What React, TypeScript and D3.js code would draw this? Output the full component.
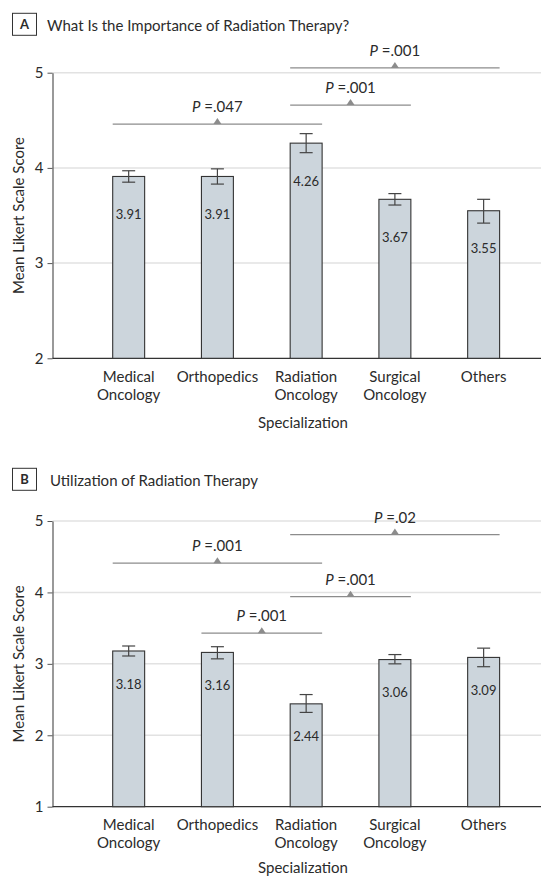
import { useEffect, useRef } from 'react';
import * as d3 from 'd3';

// categories on the x axis
const categories = ['Medical Oncology', 'Orthopedics', 'Radiation Oncology', 'Surgical Oncology', 'Others'];

// Panel A - importance of radiation therapy
const importanceMean = [3.91, 3.91, 4.26, 3.67, 3.55];
const importanceLow = [3.85, 3.83, 4.16, 3.61, 3.42];
const importanceHigh = [3.97, 3.99, 4.36, 3.73, 3.67];
const importanceTicks = [2, 3, 4, 5];
const importancePvals = [
    { from: 'Medical Oncology', to: 'Radiation Oncology', p: '.047', level: 4.46 },
    { from: 'Radiation Oncology', to: 'Surgical Oncology', p: '.001', level: 4.66 },
    { from: 'Radiation Oncology', to: 'Others', p: '.001', level: 5.05 },
];

// Panel B - utilization of radiation therapy
const utilizationMean = [3.18, 3.16, 2.44, 3.06, 3.09];
const utilizationLow = [3.11, 3.07, 2.32, 3.0, 2.96];
const utilizationHigh = [3.25, 3.24, 2.57, 3.13, 3.22];
const utilizationTicks = [1, 2, 3, 4, 5];
const utilizationPvals = [
    { from: 'Medical Oncology', to: 'Radiation Oncology', p: '.001', level: 4.41 },
    { from: 'Orthopedics', to: 'Radiation Oncology', p: '.001', level: 3.43 },
    { from: 'Radiation Oncology', to: 'Surgical Oncology', p: '.001', level: 3.94 },
    { from: 'Radiation Oncology', to: 'Others', p: '.02', level: 4.81 },
];

const FONT = 'Lato, "Open Sans", sans-serif';
const TEXT = '#2b2b2b';
const AXIS_LEFT = 52.5;
const AXIS_RIGHT = 541;

function drawPanel(svg, cfg) {
    const g = svg.append('g');

    const y = d3.scaleLinear()
        .domain([cfg.ticks[0], cfg.ticks[cfg.ticks.length - 1]])
        .range([cfg.bottom, cfg.top]);

    const x = d3.scaleBand()
        .domain(categories)
        .range([84.3, 528])
        .paddingInner(0.64)
        .paddingOuter(0.32);

    // header box + title
    g.append('rect')
        .attr('x', 12.5).attr('y', cfg.headerY)
        .attr('width', 24).attr('height', 22)
        .attr('fill', 'none').attr('stroke', '#333').attr('stroke-width', 1);
    g.append('text')
        .attr('x', 24.5).attr('y', cfg.headerY + 16)
        .attr('text-anchor', 'middle')
        .attr('font-family', FONT).attr('font-size', 13).attr('font-weight', 700)
        .attr('fill', TEXT)
        .text(cfg.letter);
    g.append('text')
        .attr('x', cfg.titleX).attr('y', cfg.headerY + 17.5)
        .attr('font-family', FONT).attr('font-size', 15)
        .attr('fill', TEXT)
        .text(cfg.title);

    // grid lines
    g.selectAll('.grid')
        .data(cfg.ticks.slice(1))
        .enter()
        .append('line')
        .attr('x1', AXIS_LEFT).attr('x2', AXIS_RIGHT)
        .attr('y1', d => y(d)).attr('y2', d => y(d))
        .attr('stroke', '#e2e2e2').attr('stroke-width', 1.5);

    // y axis
    const yAxis = g.append('g')
        .attr('transform', `translate(${AXIS_LEFT},0)`)
        .call(d3.axisLeft(y).tickValues(cfg.ticks).tickSize(5).tickSizeOuter(0).tickPadding(4).tickFormat(d3.format('d')));
    yAxis.select('.domain').attr('stroke', '#555').attr('stroke-width', 1.2);
    yAxis.selectAll('.tick line').attr('stroke', '#555');
    yAxis.selectAll('.tick text')
        .attr('font-family', FONT).attr('font-size', 15).attr('fill', TEXT);

    // baseline
    g.append('line')
        .attr('x1', AXIS_LEFT).attr('x2', AXIS_RIGHT)
        .attr('y1', y(cfg.ticks[0])).attr('y2', y(cfg.ticks[0]))
        .attr('stroke', '#333').attr('stroke-width', 1.3);

    const rows = categories.map((c, i) => ({ c, m: cfg.mean[i], lo: cfg.low[i], hi: cfg.high[i] }));

    // bars
    g.selectAll('.bar')
        .data(rows)
        .enter()
        .append('rect')
        .attr('x', d => x(d.c))
        .attr('y', d => y(d.m))
        .attr('width', x.bandwidth())
        .attr('height', d => y(cfg.ticks[0]) - y(d.m))
        .attr('fill', '#ccd5dc')
        .attr('stroke', '#333')
        .attr('stroke-width', 1.1);

    // error bars
    const err = g.selectAll('.err')
        .data(rows)
        .enter()
        .append('g')
        .attr('stroke', '#444')
        .attr('stroke-width', 1.2);
    err.append('line')
        .attr('x1', d => x(d.c) + x.bandwidth() / 2).attr('x2', d => x(d.c) + x.bandwidth() / 2)
        .attr('y1', d => y(d.lo)).attr('y2', d => y(d.hi));
    err.append('line')
        .attr('x1', d => x(d.c) + x.bandwidth() / 2 - 6.5).attr('x2', d => x(d.c) + x.bandwidth() / 2 + 6.5)
        .attr('y1', d => y(d.hi)).attr('y2', d => y(d.hi));
    err.append('line')
        .attr('x1', d => x(d.c) + x.bandwidth() / 2 - 6.5).attr('x2', d => x(d.c) + x.bandwidth() / 2 + 6.5)
        .attr('y1', d => y(d.lo)).attr('y2', d => y(d.lo));

    // value labels inside bars
    g.selectAll('.val')
        .data(rows)
        .enter()
        .append('text')
        .attr('x', d => x(d.c) + x.bandwidth() / 2)
        .attr('y', d => y(d.m) + cfg.labelOffset)
        .attr('text-anchor', 'middle')
        .attr('dy', '0.35em')
        .attr('font-family', FONT).attr('font-size', 13)
        .attr('fill', TEXT)
        .text(d => d.m.toFixed(2));

    // significance brackets
    const pg = g.selectAll('.pval')
        .data(cfg.pvals)
        .enter()
        .append('g');
    pg.append('line')
        .attr('x1', d => x(d.from)).attr('x2', d => x(d.to) + x.bandwidth())
        .attr('y1', d => y(d.level)).attr('y2', d => y(d.level))
        .attr('stroke', '#8c8c8c').attr('stroke-width', 1.2);
    pg.append('path')
        .attr('d', d => {
            const cx = (x(d.from) + x(d.to) + x.bandwidth()) / 2;
            const ly = y(d.level);
            return `M${cx - 4},${ly}L${cx + 4},${ly}L${cx},${ly - 6}Z`;
        })
        .attr('fill', '#8c8c8c');
    const pt = pg.append('text')
        .attr('x', d => (x(d.from) + x(d.to) + x.bandwidth()) / 2)
        .attr('y', d => y(d.level) - 12)
        .attr('text-anchor', 'middle')
        .attr('font-family', FONT).attr('font-size', 15)
        .attr('fill', TEXT);
    pt.append('tspan').attr('font-style', 'italic').text('P');
    pt.append('tspan').text(d => '\u00a0=' + d.p);

    // category labels
    const cl = g.selectAll('.cat')
        .data(categories)
        .enter()
        .append('text')
        .attr('x', d => x(d) + x.bandwidth() / 2)
        .attr('y', y(cfg.ticks[0]) + 23.5)
        .attr('text-anchor', 'middle')
        .attr('font-family', FONT).attr('font-size', 15)
        .attr('fill', TEXT);
    cl.selectAll('tspan')
        .data(d => d.split(' '))
        .enter()
        .append('tspan')
        .attr('x', function () { return d3.select(this.parentNode).attr('x'); })
        .attr('dy', (d, i) => (i === 0 ? 0 : 18))
        .text(d => d);

    // axis titles
    g.append('text')
        .attr('x', 303)
        .attr('y', y(cfg.ticks[0]) + cfg.xTitleOffset)
        .attr('text-anchor', 'middle')
        .attr('font-family', FONT).attr('font-size', 15)
        .attr('fill', TEXT)
        .text('Specialization');

    g.append('text')
        .attr('transform', `translate(24,${(cfg.top + cfg.bottom) / 2}) rotate(-90)`)
        .attr('text-anchor', 'middle')
        .attr('font-family', FONT).attr('font-size', 15)
        .attr('fill', TEXT)
        .text('Mean Likert Scale Score');
}

export default function App() {
    const ref = useRef<SVGSVGElement>(null);

    useEffect(() => {
        if (!ref.current) return;
        const svg = d3.select(ref.current);
        svg.selectAll('*').remove();

        drawPanel(svg, {
            letter: 'A',
            title: 'What Is the Importance of Radiation Therapy?',
            titleX: 47,
            headerY: 13.3,
            top: 72.7,
            bottom: 358.3,
            ticks: importanceTicks,
            mean: importanceMean,
            low: importanceLow,
            high: importanceHigh,
            pvals: importancePvals,
            labelOffset: 38,
            xTitleOffset: 70,
        });

        drawPanel(svg, {
            letter: 'B',
            title: 'Utilization of Radiation Therapy',
            titleX: 50,
            headerY: 468.3,
            top: 521,
            bottom: 806.7,
            ticks: utilizationTicks,
            mean: utilizationMean,
            low: utilizationLow,
            high: utilizationHigh,
            pvals: utilizationPvals,
            labelOffset: 33,
            xTitleOffset: 66,
        });
    }, []);

    return (
        <svg
            ref={ref}
            width={541}
            height={878}
            style={{ position: 'absolute', left: 0, top: 0, background: '#fff' }}
        />
    );
}
